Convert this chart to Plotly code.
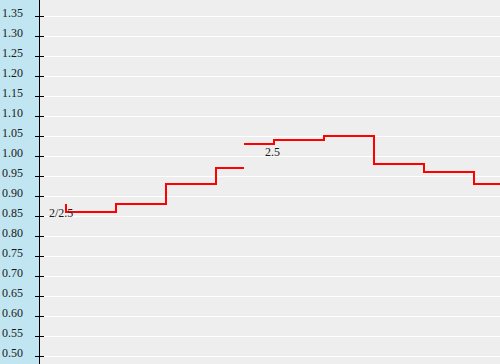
import plotly.graph_objects as go

# Step series (time index, value); drawn with 'vh' step shape
s1_t = [0, 1, 2, 3, 3.56]
s1_v = [0.88, 0.86, 0.88, 0.93, 0.97]
s2_t = [3.56, 4.16, 5.16, 6.16, 7.16, 8.16, 8.68]
s2_v = [1.03, 1.03, 1.04, 1.05, 0.98, 0.96, 0.93]

labels = ["2/2.5", "2.5"]
label_t = [-0.38, 3.94]
label_v = [0.8575, 1.01]

tick_vals = [round(0.50 + 0.05 * i, 2) for i in range(18)]
tick_text = [f"{v:.2f}" for v in tick_vals]

font = dict(family="Liberation Serif, Times New Roman, serif", size=12, color="#1a1a1a")

fig = go.Figure()
for t, v in [(s1_t, s1_v), (s2_t, s2_v)]:
    fig.add_trace(go.Scatter(x=t, y=v, mode="lines",
                             line=dict(color="#ff0000", width=2, shape="vh"),
                             hoverinfo="skip", showlegend=False))
# invisible anchors so the overlay axes are drawn
for ax in ["y2", "y3"]:
    fig.add_trace(go.Scatter(x=[0], y=[1.0], yaxis=ax, mode="markers",
                             marker=dict(opacity=0, size=1), hoverinfo="skip",
                             showlegend=False))

for txt, t, v in zip(labels, label_t, label_v):
    fig.add_annotation(x=t, y=v, text=txt, showarrow=False, xanchor="left",
                       yanchor="middle", font=font, xref="x", yref="y")

yrange = [0.48, 1.39]
lift = 0.0075  # tick labels sit slightly above their ticks
fig.update_layout(
    width=500, height=364,
    margin=dict(l=40, r=0, t=0, b=0, pad=0),
    paper_bgcolor="#c1e5f1",
    plot_bgcolor="#eeeeee",
    showlegend=False,
    xaxis=dict(visible=False, range=[-0.52, 8.68], showgrid=False, zeroline=False),
    yaxis=dict(range=yrange, tickvals=tick_vals, showticklabels=False,
               showgrid=True, gridcolor="#ffffff", gridwidth=1, zeroline=False,
               showline=True, linecolor="#000000", linewidth=1,
               ticks="outside", ticklen=4, tickcolor="#000000", tickwidth=1),
    yaxis2=dict(range=yrange, overlaying="y", side="left", tickvals=tick_vals,
                showticklabels=False, showgrid=False, zeroline=False,
                ticks="inside", ticklen=4, tickcolor="#000000", tickwidth=1,
                showline=False),
    yaxis3=dict(range=[yrange[0] - lift, yrange[1] - lift], overlaying="y", side="left",
                tickvals=tick_vals, ticktext=tick_text, showgrid=False, zeroline=False,
                showline=False, ticks="", ticklabelstandoff=16, tickfont=font),
)
fig.write_html("out.html")
